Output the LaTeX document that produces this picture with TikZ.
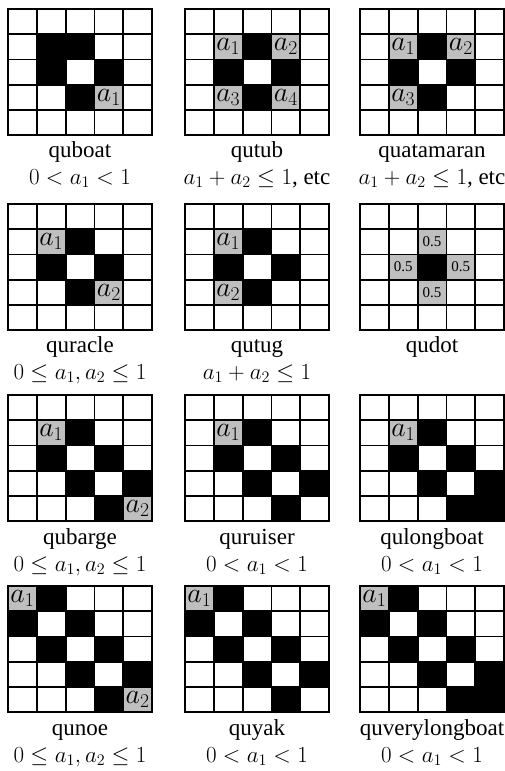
\RequirePackage{fix-cm}
\documentclass[tikz,border=0pt]{standalone}
\usepackage{fontspec}
\setmainfont{Liberation Serif}
\definecolor{cellgray}{RGB}{191,191,191}
\tikzset{
  gridline/.style={line width=1.8pt, line cap=rect},
  namelabel/.style={anchor=base, inner sep=0pt, font=\fontsize{23}{25}\selectfont},
  condlabel/.style={anchor=base, inner sep=0pt, font=\fontsize{23}{25}\selectfont},
  cellmath/.style={inner sep=0pt, font=\fontsize{28}{30}\selectfont},
}
% #1 left, #2 top, #3 black cells row/col, #4 gray cells row/col/label
\newcommand\qgrid[4]{%
  \foreach \ri/\ci in {#3} \fill[black] (#1+\ci*28.8, #2+\ri*25.2) rectangle ++(28.8,25.2);
  \foreach \ri/\ci/\lab in {#4} {
    \fill[cellgray] (#1+\ci*28.8, #2+\ri*25.2) rectangle ++(28.8,25.2);
    \node[cellmath] at (#1+\ci*28.8+14.4, #2+\ri*25.2+12.6) {\lab};
  }
  \foreach \i in {0,...,5} \draw[gridline] (#1+\i*28.8, #2) -- ++(0,126);
  \foreach \i in {0,...,5} \draw[gridline] (#1, #2+\i*25.2) -- ++(144,0);
}
\newcommand\half{{\fontsize{15}{17}\selectfont 0.5}}
\begin{document}
\begin{tikzpicture}[x=1pt,y=-1pt]
\useasboundingbox (0,0) rectangle (505,771);
% row 1
\qgrid{8}{9}{1/1,1/2,2/1,2/3,3/2}{3/3/$a_1$}
\qgrid{185}{9}{1/2,2/1,2/3,3/2}{1/1/$a_1$,1/3/$a_2$,3/1/$a_3$,3/3/$a_4$}
\qgrid{360}{9}{1/2,2/1,2/3,3/2}{1/1/$a_1$,1/3/$a_2$,3/1/$a_3$}
\node[namelabel] (n1) at (80,157) {quboat};
\node[condlabel] (c1) at (80,184) {$0<a_1<1$};
\node[namelabel] (n2) at (257,157) {qutub};
\node[condlabel] (c2) at (257,184) {$a_1+a_2\le 1$, etc};
\node[namelabel] (n3) at (432,157) {quatamaran};
\node[condlabel] (c3) at (432,184) {$a_1+a_2\le 1$, etc};
% row 2
\qgrid{8}{204}{1/2,2/1,2/3,3/2}{1/1/$a_1$,3/3/$a_2$}
\qgrid{185}{204}{1/2,2/1,2/3,3/2}{1/1/$a_1$,3/1/$a_2$}
\qgrid{360}{204}{2/2}{1/2/\half,2/1/\half,2/3/\half,3/2/\half}
\node[namelabel] (n4) at (80,352) {quracle};
\node[condlabel] (c4) at (80,379) {$0\le a_1, a_2\le 1$};
\node[namelabel] (n5) at (257,352) {qutug};
\node[condlabel] (c5) at (257,379) {$a_1+a_2\le 1$};
\node[namelabel] (n6) at (432,352) {qudot};
% row 3
\qgrid{8}{395}{1/2,2/1,2/3,3/2,3/4,4/3}{1/1/$a_1$,4/4/$a_2$}
\qgrid{185}{395}{1/2,2/1,2/3,3/2,3/4,4/3}{1/1/$a_1$}
\qgrid{360}{395}{1/2,2/1,2/3,3/2,3/4,4/3,4/4}{1/1/$a_1$}
\node[namelabel] (n7) at (80,544) {qubarge};
\node[condlabel] (c7) at (80,571) {$0\le a_1, a_2\le 1$};
\node[namelabel] (n8) at (257,544) {quruiser};
\node[condlabel] (c8) at (257,571) {$0<a_1<1$};
\node[namelabel] (n9) at (432,544) {qulongboat};
\node[condlabel] (c9) at (432,571) {$0<a_1<1$};
% row 4
\qgrid{8}{586}{0/1,1/0,1/2,2/1,2/3,3/2,3/4,4/3}{0/0/$a_1$,4/4/$a_2$}
\qgrid{185}{586}{0/1,1/0,1/2,2/1,2/3,3/2,3/4,4/3}{0/0/$a_1$}
\qgrid{360}{586}{0/1,1/0,1/2,2/1,2/3,3/2,3/4,4/3,4/4}{0/0/$a_1$}
\node[namelabel] (n10) at (80,735) {qunoe};
\node[condlabel] (c10) at (80,762) {$0\le a_1, a_2\le 1$};
\node[namelabel] (n11) at (257,735) {quyak};
\node[condlabel] (c11) at (257,762) {$0<a_1<1$};
\node[namelabel] (n12) at (432,735) {quverylongboat};
\node[condlabel] (c12) at (432,762) {$0<a_1<1$};
\end{tikzpicture}
\end{document}
